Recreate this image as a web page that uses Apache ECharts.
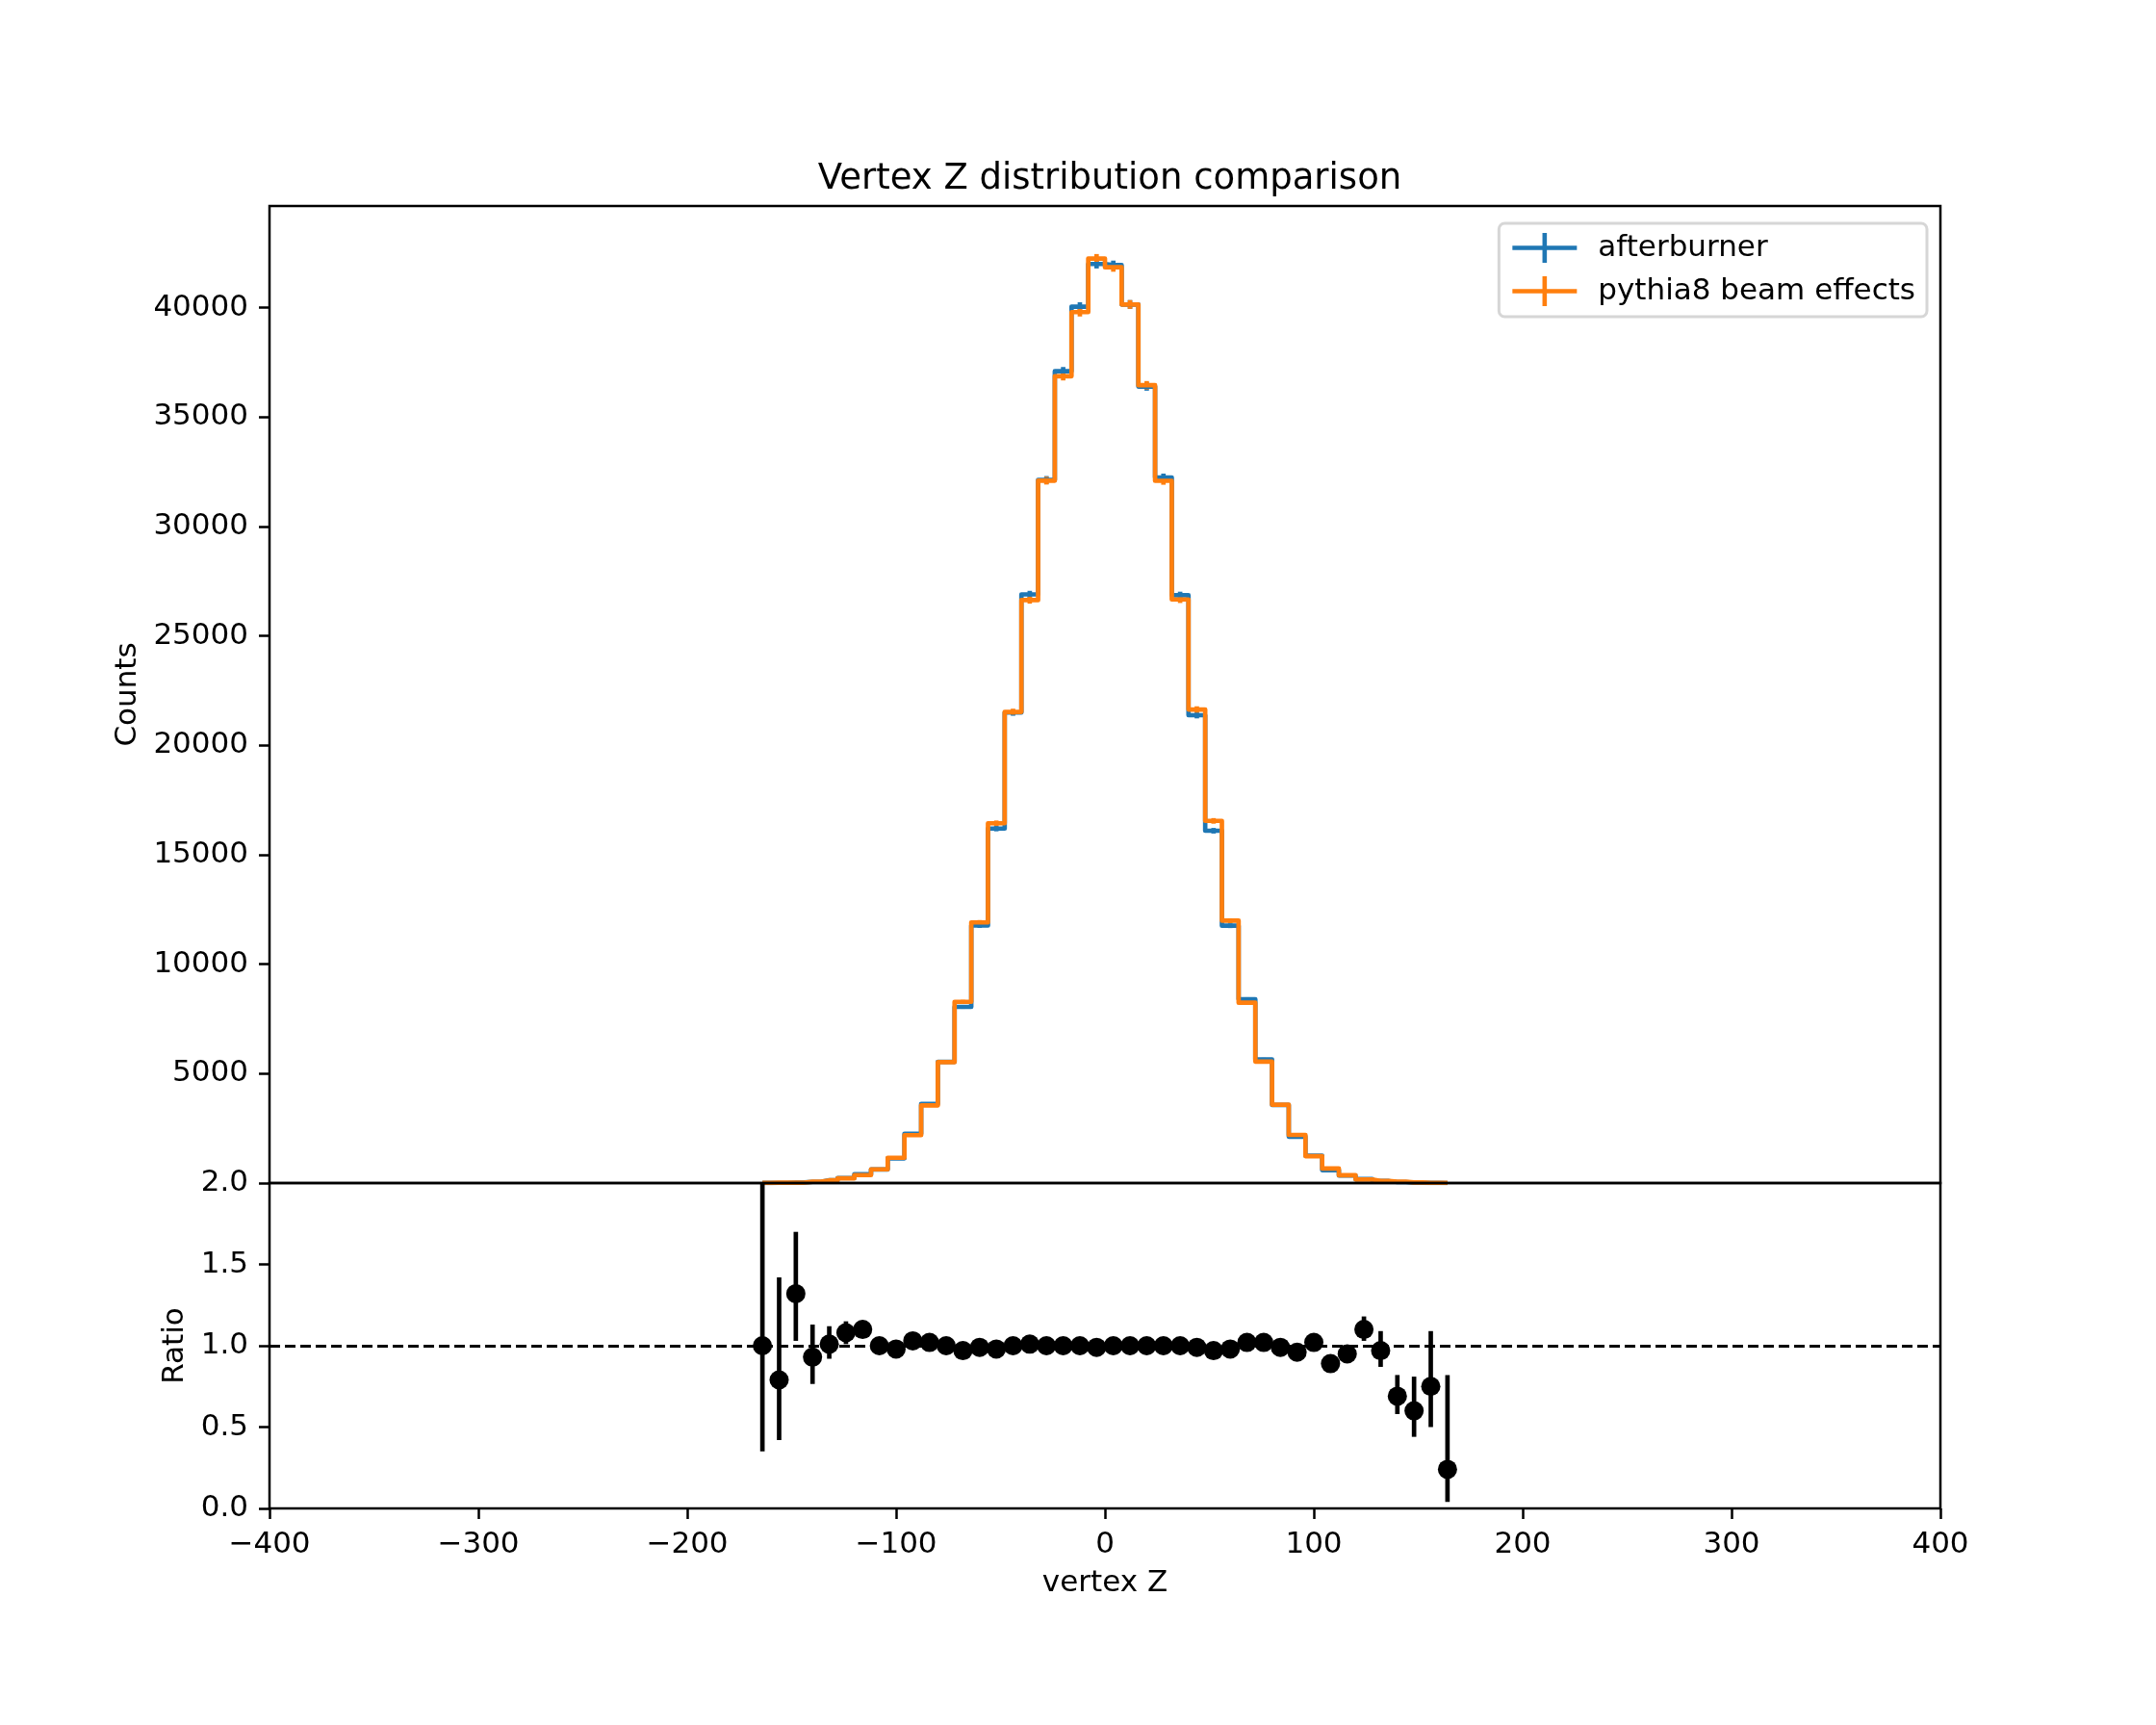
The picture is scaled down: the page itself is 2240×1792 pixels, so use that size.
<!DOCTYPE html>
<html><head><meta charset="utf-8">
<script src="https://cdn.jsdelivr.net/npm/echarts@6/dist/echarts.min.js"></script>
<style>html,body{margin:0;padding:0;background:#fff}#c{width:2240px;height:1792px}</style>
</head><body><div id="c"></div><script>
const binCenters = [-164,-156,-148,-140,-132,-124,-116,-108,-100,-92,-84,-76,-68,-60,-52,-44,-36,-28,-20,-12,-4,4,12,20,28,36,44,52,60,68,76,84,92,100,108,116,124,132,140,148,156,164];
const afterburner = [4,11,26,56,125,232,400,625,1130,2250,3615,5540,8050,11770,16200,21500,26900,32130,37100,40050,42000,41950,40150,36400,32240,26860,21380,16100,11760,8400,5650,3570,2120,1250,590,340,180,90,45,18,9,1];
const pythia8 = [4,14,20,60,123,214,364,626,1155,2188,3550,5525,8280,11910,16440,21530,26640,32100,36870,39800,42250,41850,40150,36460,32090,26670,21640,16550,11990,8240,5550,3580,2200,1228,665,357,163,93,65,30,12,4];
const ratio = [1.00,0.79,1.32,0.93,1.01,1.08,1.10,1.00,0.98,1.03,1.02,1.00,0.97,0.99,0.98,1.00,1.01,1.00,1.00,1.00,0.99,1.00,1.00,1.00,1.00,1.00,0.99,0.97,0.98,1.02,1.02,0.99,0.96,1.02,0.89,0.95,1.10,0.97,0.69,0.60,0.75,0.24];
const ratioErrLow = [0.65,0.37,0.29,0.165,0.09,0.07,0.05,0.04,0.03,0.022,0.018,0.015,0.012,0.01,0.009,0.008,0.008,0.007,0.007,0.007,0.007,0.007,0.007,0.007,0.007,0.008,0.008,0.009,0.01,0.012,0.015,0.018,0.022,0.03,0.04,0.05,0.07,0.10,0.11,0.16,0.25,0.20];
const ratioErrHigh = [1.00,0.63,0.38,0.20,0.11,0.07,0.05,0.04,0.03,0.022,0.018,0.015,0.012,0.01,0.009,0.008,0.008,0.007,0.007,0.007,0.007,0.007,0.007,0.007,0.007,0.008,0.008,0.009,0.01,0.012,0.015,0.018,0.022,0.03,0.04,0.05,0.08,0.12,0.13,0.21,0.34,0.58];
const countTicks = [5000,10000,15000,20000,25000,30000,35000,40000];
const ratioTicks = [0,0.5,1,1.5,2];
const zTicks = [-400,-300,-200,-100,0,100,200,300,400];

const FONT = 'DejaVu Sans';
const BLUE = '#1f77b4', ORANGE = '#ff7f0e';
const LW = 4.67;

function errRender(color) {
  return function (params, api) {
    const x = api.value(0), lo = api.value(1), hi = api.value(2);
    const p1 = api.coord([x, lo]);
    const p2 = api.coord([x, hi]);
    return { type: 'line', shape: { x1: p1[0], y1: p1[1], x2: p2[0], y2: p2[1] },
      style: { stroke: color, lineWidth: LW } };
  };
}
function histErr(vals) {
  return binCenters.map((x, i) => [x, vals[i] - Math.sqrt(vals[i]), vals[i] + Math.sqrt(vals[i])]);
}

const chart = echarts.init(document.getElementById('c'), null, { renderer: 'canvas' });
const axisLabelBase = { color: '#000', fontSize: 31, fontFamily: FONT, margin: 22 };
const yLabelBase = Object.assign({}, axisLabelBase, { padding: [5, 0, 0, 0] });
const tickBase = { show: true, length: 11, lineStyle: { color: '#000', width: 2.5 } };
const nameStyle = { color: '#000', fontSize: 31, fontFamily: FONT };
const noLine = { show: false, onZero: false };

chart.setOption({
  animation: false,
  backgroundColor: '#fff',
  title: { text: 'Vertex Z distribution comparison', left: 1148, textAlign: 'center', top: 163,
    textStyle: { fontFamily: FONT, fontSize: 37, fontWeight: 'normal', color: '#000' } },
  legend: {
    data: [{ name: 'afterburner', itemStyle: { color: BLUE } }, { name: 'pythia8 beam effects', itemStyle: { color: ORANGE } }],
    orient: 'vertical', right: 238, top: 232, padding: [10, 12, 11, 14], itemGap: 14,
    itemWidth: 67, itemHeight: 31, selectedMode: false,
    icon: 'path://M0,13.2H67V17.8H0Z M31.2,0H35.8V31H31.2Z',
    textStyle: { fontSize: 31, fontFamily: FONT, color: '#000', padding: [0, 0, 0, 17] },
    borderColor: '#d6d6d6', borderWidth: 3, borderRadius: 6, backgroundColor: '#fff'
  },
  grid: [
    { left: 280, right: 224, top: 214, height: 1015, show: true, borderColor: '#000', borderWidth: 2.5, backgroundColor: 'rgba(0,0,0,0)', z: 10 },
    { left: 280, right: 224, top: 1229, height: 338, show: true, borderColor: '#000', borderWidth: 2.5, backgroundColor: 'rgba(0,0,0,0)', z: 10 }
  ],
  xAxis: [
    { gridIndex: 0, type: 'value', position: 'bottom', min: -400, max: 400, axisLine: noLine, axisTick: { show: false }, axisLabel: { show: false }, splitLine: { show: false } },
    { gridIndex: 1, type: 'value', position: 'bottom', min: -400, max: 400, interval: 100, axisLine: noLine,
      axisTick: Object.assign({ customValues: zTicks }, tickBase),
      axisLabel: Object.assign({ customValues: zTicks, formatter: v => String(v).replace('-', '\u2212') }, axisLabelBase),
      splitLine: { show: false }, name: 'vertex Z', nameLocation: 'middle', nameGap: 62, nameTextStyle: nameStyle }
  ],
  yAxis: [
    { gridIndex: 0, type: 'value', position: 'left', min: 0, max: 44650, axisLine: noLine,
      axisTick: Object.assign({ customValues: countTicks }, tickBase),
      axisLabel: Object.assign({ customValues: countTicks, formatter: v => String(v) }, yLabelBase),
      splitLine: { show: false }, name: 'Counts', nameLocation: 'middle', nameRotate: 90, nameGap: 123, nameTextStyle: nameStyle },
    { gridIndex: 1, type: 'value', position: 'left', min: 0, max: 2, axisLine: noLine,
      axisTick: Object.assign({ customValues: ratioTicks }, tickBase),
      axisLabel: Object.assign({ customValues: ratioTicks, formatter: v => v.toFixed(1) }, yLabelBase),
      splitLine: { show: false }, name: 'Ratio', nameLocation: 'middle', nameRotate: 90, nameGap: 76, nameTextStyle: nameStyle }
  ],
  series: [
    { name: 'afterburner', type: 'line', xAxisIndex: 0, yAxisIndex: 0, step: 'middle', showSymbol: false, symbol: 'none',
      data: binCenters.map((x, i) => [x, afterburner[i]]), color: BLUE, itemStyle: { color: BLUE },
      lineStyle: { color: BLUE, width: LW, join: 'round' }, z: 2 },
    { name: 'afterburner err', type: 'custom', xAxisIndex: 0, yAxisIndex: 0, renderItem: errRender(BLUE),
      data: histErr(afterburner), encode: { x: 0, y: [1, 2] }, z: 2 },
    { name: 'pythia8 beam effects', type: 'line', xAxisIndex: 0, yAxisIndex: 0, step: 'middle', showSymbol: false, symbol: 'none',
      data: binCenters.map((x, i) => [x, pythia8[i]]), color: ORANGE, itemStyle: { color: ORANGE },
      lineStyle: { color: ORANGE, width: LW, join: 'round' }, z: 2 },
    { name: 'pythia8 err', type: 'custom', xAxisIndex: 0, yAxisIndex: 0, renderItem: errRender(ORANGE),
      data: histErr(pythia8), encode: { x: 0, y: [1, 2] }, z: 2 },
    { name: 'ratio err', type: 'custom', xAxisIndex: 1, yAxisIndex: 1, renderItem: errRender('#000'), clip: true,
      data: binCenters.map((x, i) => [x, ratio[i] - ratioErrLow[i], Math.min(2, ratio[i] + ratioErrHigh[i])]),
      encode: { x: 0, y: [1, 2] }, z: 3 },
    { name: 'ratio', type: 'scatter', xAxisIndex: 1, yAxisIndex: 1, symbol: 'circle', symbolSize: 20,
      itemStyle: { color: '#000', opacity: 1 }, data: binCenters.map((x, i) => [x, ratio[i]]), z: 4,
      markLine: { silent: true, symbol: 'none', label: { show: false },
        lineStyle: { color: '#000', width: 3, type: [11, 5], opacity: 1 }, data: [{ yAxis: 1 }] } }
  ]
});
</script></body></html>
